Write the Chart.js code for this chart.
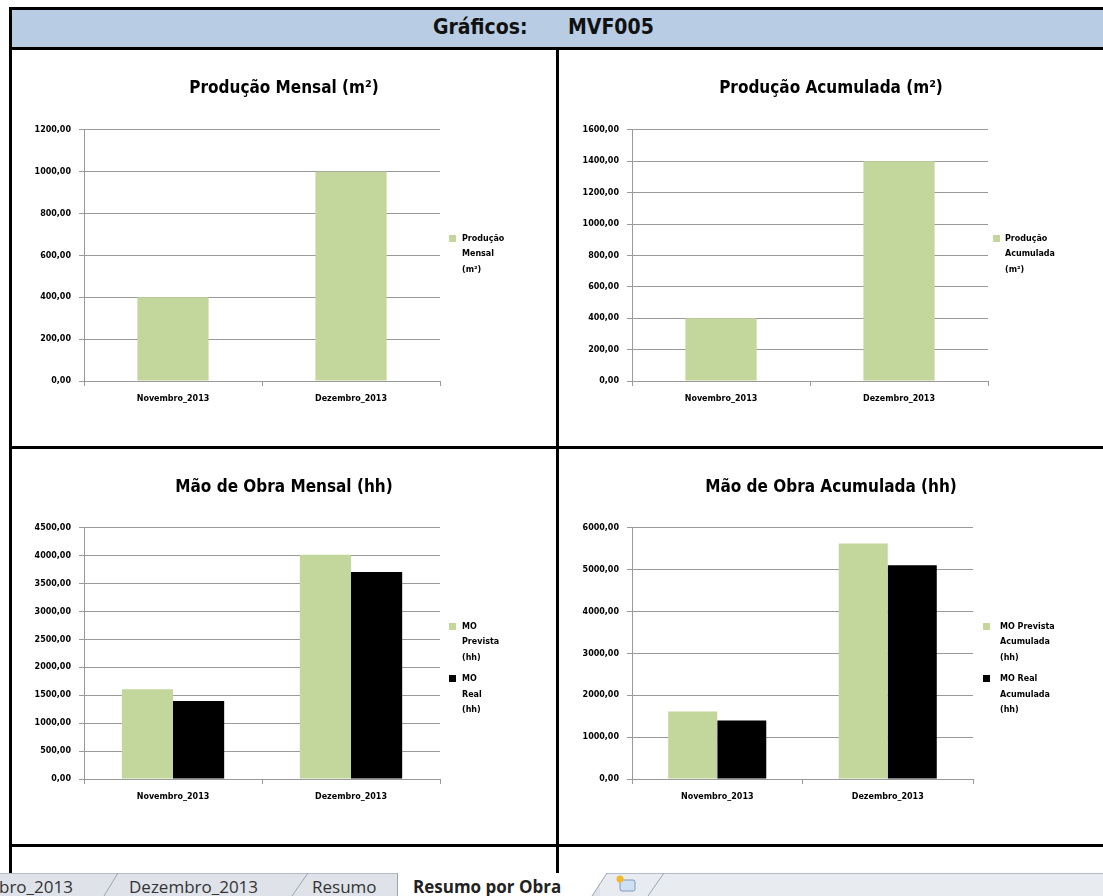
<!DOCTYPE html>
<html>
<head>
<meta charset="utf-8">
<script src="https://cdn.jsdelivr.net/npm/chart.js@4.4.0/dist/chart.umd.min.js"></script>
<style>
  html, body { margin: 0; padding: 0; background: #fff; width: 1103px; height: 896px; overflow: hidden; position: relative; }
  .ln { position: absolute; background: #000; }
  #hdr { position: absolute; left: 9px; top: 7px; width: 1110px; height: 43px; box-sizing: border-box;
         border: 3px solid #000; background: #b8cce4; }
  .ht { position: absolute; top: 15px; font: bold 21px 'DejaVu Sans Condensed', 'DejaVu Sans', sans-serif; color: #111; }
  canvas { position: absolute; }
  #tabs { position: absolute; left: 0; top: 873px; }
</style>
</head>
<body>
<div id="hdr"></div>
<span class="ht" style="left:433px">Gráficos:</span>
<span class="ht" style="left:568px">MVF005</span>

<div class="ln" style="left:9px;top:47px;width:3px;height:826px"></div>
<div class="ln" style="left:556px;top:47px;width:3px;height:826px"></div>
<div class="ln" style="left:9px;top:446px;width:1094px;height:3px"></div>
<div class="ln" style="left:9px;top:844px;width:1094px;height:3px"></div>

<canvas id="c1" width="544" height="396" style="left:12px;top:50px"></canvas>
<canvas id="c2" width="544" height="396" style="left:559px;top:50px"></canvas>
<canvas id="c3" width="544" height="395" style="left:12px;top:449px"></canvas>
<canvas id="c4" width="544" height="395" style="left:559px;top:449px"></canvas>

<svg id="tabs" width="1103" height="23" font-family="'Open Sans', sans-serif">
  <rect x="0" y="0" width="1103" height="23" fill="#e8ebf0"/>
  <rect x="0" y="0" width="600" height="23" fill="#dfe3e9"/>
  <line x1="0" y1="0.5" x2="1103" y2="0.5" stroke="#b4bcc8"/>
  <polygon points="397,0 607,0 592,23 397,23" fill="#ffffff"/>
  <line x1="397.5" y1="0" x2="397.5" y2="23" stroke="#9aa4b2"/>
  <line x1="592" y1="23" x2="607" y2="0" stroke="#9aa4b2"/>
  <line x1="104" y1="23" x2="118" y2="0" stroke="#9aa4b2"/>
  <line x1="292" y1="23" x2="308" y2="0" stroke="#9aa4b2"/>
  <line x1="648" y1="23" x2="664" y2="0" stroke="#9aa4b2"/>
  <rect x="620" y="7" width="15" height="11" rx="2" fill="#cfe0f3" stroke="#7f9bbd"/>
  <circle cx="620" cy="6" r="3.5" fill="#f3b92a"/>
  <text x="-1" y="20" font-size="17" fill="#333">bro_2013</text>
  <text x="129" y="20" font-size="17" fill="#333">Dezembro_2013</text>
  <text x="312" y="20" font-size="17" fill="#333">Resumo</text>
  <text x="413" y="20" font-size="17" font-weight="bold" fill="#222">Resumo por Obra</text>
</svg>

<script>
const meses = ['Novembro_2013', 'Dezembro_2013'];

const producaoMensal = [400, 1000];
const producaoAcumulada = [400, 1400];
const moPrevistaMensal = [1610, 4020];
const moRealMensal = [1400, 3710];
const moPrevistaAcumulada = [1610, 5630];
const moRealAcumulada = [1400, 5110];

const ticksProdMensal = [0, 200, 400, 600, 800, 1000, 1200];
const ticksProdAcum = [0, 200, 400, 600, 800, 1000, 1200, 1400, 1600];
const ticksMoMensal = [0, 500, 1000, 1500, 2000, 2500, 3000, 3500, 4000, 4500];
const ticksMoAcum = [0, 1000, 2000, 3000, 4000, 5000, 6000];

const titulos = ['Produção Mensal (m²)', 'Produção Acumulada (m²)', 'Mão de Obra Mensal (hh)', 'Mão de Obra Acumulada (hh)'];

// legend text, one entry per line as Excel wrapped it
const legProdMensal = ['Produção', 'Mensal', '(m²)'];
const legProdAcum = ['Produção', 'Acumulada', '(m²)'];
const legPrevMensal = ['MO', 'Prevista', '(hh)'];
const legRealMensal = ['MO', 'Real', '(hh)'];
const legPrevAcum = ['MO Prevista', 'Acumulada', '(hh)'];
const legRealAcum = ['MO Real', 'Acumulada', '(hh)'];

const verde = '#c3d69b';
const preto = '#000000';
const cinza = '#9a9a9a';

Chart.defaults.font.family = "'DejaVu Sans', sans-serif";
Chart.defaults.color = '#000';

// draws the Excel style legend to the right of the plot
const sideLegend = {
  id: 'sideLegend',
  afterDraw(chart, args, opts) {
    const ctx = chart.ctx, a = chart.chartArea;
    ctx.save();
    ctx.font = "bold 8px 'DejaVu Sans'";
    ctx.textBaseline = 'middle';
    let y = a.top + opts.top;
    chart.data.datasets.forEach(ds => {
      ctx.fillStyle = ds.backgroundColor;
      ctx.fillRect(a.right + opts.box, Math.round(y - 4), 7, 7);
      ctx.fillStyle = '#000';
      ds.label.forEach((line, i) => ctx.fillText(line, a.right + opts.text, y + i * 15.5));
      y += ds.label.length * 15.5 + 6;
    });
    ctx.restore();
  }
};

const fmt = v => v.toFixed(2).replace('.', ',');

function makeChart(id, titulo, datasets, yTicks, o) {
  return new Chart(document.getElementById(id), {
    type: 'bar',
    data: { labels: meses, datasets: datasets },
    options: {
      responsive: false,
      animation: false,
      events: [],
      layout: { padding: 0 },
      datasets: { bar: { categoryPercentage: o.cat, barPercentage: 1 } },
      plugins: {
        legend: { display: false },
        tooltip: { enabled: false },
        title: {
          display: true, text: titulo, color: '#000',
          font: { family: "'DejaVu Sans Condensed', 'DejaVu Sans', sans-serif", size: 17, weight: 'bold' },
          padding: { top: 28.5, bottom: o.titleGap }
        },
        sideLegend: o.legend
      },
      scales: {
        x: {
          offset: true,
          grid: { display: true, drawOnChartArea: false, offset: true, tickLength: 5, color: cinza },
          border: { color: cinza },
          ticks: { padding: 8, font: { size: 8, weight: 'bold' } },
          afterFit: s => { s.height = o.xh; }
        },
        y: {
          min: yTicks[0], max: yTicks[yTicks.length - 1],
          afterBuildTicks: s => { s.ticks = yTicks.map(v => ({ value: v })); },
          grid: { color: cinza, tickLength: 5 },
          border: { color: cinza },
          ticks: { padding: 8, font: { size: 8, weight: 'bold' }, callback: v => fmt(v) },
          afterFit: s => { s.width = o.yw; }
        },
        // empty right axis that only reserves room for the legend
        espaco: {
          type: 'linear', position: 'right', min: 0, max: 1,
          grid: { display: false }, border: { display: false }, ticks: { display: false },
          afterFit: s => { s.width = o.right; }
        }
      }
    },
    plugins: [sideLegend]
  });
}

makeChart('c1', titulos[0],
  [{ label: legProdMensal, data: producaoMensal, backgroundColor: verde }],
  ticksProdMensal,
  { cat: 0.4, right: 116, yw: 72, xh: 65, titleGap: 31, legend: { top: 109, box: 9, text: 22 } });

makeChart('c2', titulos[1],
  [{ label: legProdAcum, data: producaoAcumulada, backgroundColor: verde }],
  ticksProdAcum,
  { cat: 0.4, right: 115, yw: 73, xh: 65, titleGap: 31, legend: { top: 109, box: 5, text: 17 } });

makeChart('c3', titulos[2],
  [{ label: legPrevMensal, data: moPrevistaMensal, backgroundColor: verde },
   { label: legRealMensal, data: moRealMensal, backgroundColor: preto }],
  ticksMoMensal,
  { cat: 0.575, right: 116, yw: 72, xh: 65, titleGap: 30, legend: { top: 99, box: 9, text: 22 } });

makeChart('c4', titulos[3],
  [{ label: legPrevAcum, data: moPrevistaAcumulada, backgroundColor: verde },
   { label: legRealAcum, data: moRealAcumulada, backgroundColor: preto }],
  ticksMoAcum,
  { cat: 0.575, right: 130, yw: 73, xh: 65, titleGap: 30, legend: { top: 99, box: 10, text: 27 } });
</script>
</body>
</html>
